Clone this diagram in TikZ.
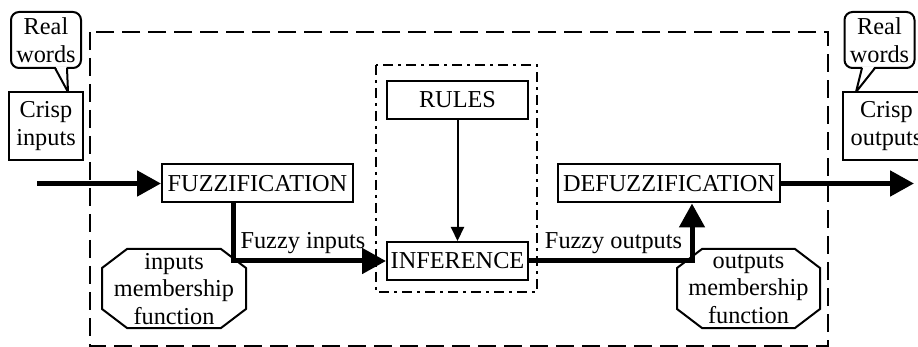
\documentclass[tikz,border=0pt]{standalone}
\usepackage{fontspec}
\setmainfont{Liberation Serif}
\usetikzlibrary{arrows.meta}
\begin{document}
\begin{tikzpicture}[x=1pt,y=-1pt,
  txt/.style={font=\fontsize{24.3}{27.5}\selectfont, inner sep=0pt, align=center},
  boxn/.style={txt, draw, line width=2pt, minimum width=#1, minimum height=38pt},
  twoline/.style={txt, draw, line width=2pt, minimum width=#1, minimum height=68pt},
  callout/.style={txt, draw, line width=2pt, rounded corners=8pt, minimum width=70pt, minimum height=56pt},
  octa/.style={line width=2pt},
  thickarrow/.style={line width=5pt, -{Triangle[length=24pt,width=25pt]}},
  thinarrow/.style={line width=2pt, -{Triangle[length=14pt,width=13pt]}},
  outerframe/.style={line width=2.5pt, dash pattern=on 18pt off 8pt},
  innerframe/.style={line width=2.5pt, dash pattern=on 10pt off 5pt on 3pt off 5pt},
  lbl/.style={txt, anchor=base}
]
\useasboundingbox (0,0) rectangle (918,347);
\clip (0,0) rectangle (918,347);

% frames
\draw[outerframe] (90,32) rectangle (828,346);
\draw[innerframe] (376,65) rectangle (537,292);

% left callout and crisp inputs
\node[callout] (rw1) at (46,40) {Real\\words};
\node[twoline=74pt] (ci) at (46,126) {Crisp\\inputs};
\fill[white] (55.5,66.5) -- (66.5,66.5) -- (67.5,90) -- cycle;
\draw[line width=2pt, line join=round] (55,68) -- (68,92) -- (67,68);

% right callout and crisp outputs
\node[callout] (rw2) at (879.5,40) {Real\\words};
\node[twoline=87pt] (co) at (886.5,126) {Crisp\\outputs};
\fill[white] (862.5,66.5) -- (874.5,66.5) -- (857,90) -- cycle;
\draw[line width=2pt, line join=round] (862,68) -- (856,92) -- (875,68);

% main boxes
\node[boxn=191pt] (fuzz) at (257.5,183.5) {FUZZIFICATION};
\node[boxn=141pt] (rules) at (457.5,100) {RULES};
\node[boxn=141pt] (inf) at (457.5,261) {INFERENCE};
\node[boxn=222pt] (defuzz) at (669,183.5) {DEFUZZIFICATION};

% membership function octagons
\node[txt] (imf) at (174,289) {inputs\\membership\\function};
\draw[octa] (174,288.5) ++(-47,-39.5) -- ++(94,0) -- ++(25,19) -- ++(0,41) -- ++(-25,19) -- ++(-94,0) -- ++(-25,-19) -- ++(0,-41) -- cycle;
\node[txt] (omf) at (748.5,289) {outputs\\membership\\function};
\draw[octa] (748.5,288.5) ++(-46.5,-39.5) -- ++(93,0) -- ++(25,19) -- ++(0,41) -- ++(-25,19) -- ++(-93,0) -- ++(-25,-19) -- ++(0,-41) -- cycle;

% connectors
\coordinate (inStart) at (37,183.5);
\coordinate (outEnd) at (914,183.5);
\coordinate (c1) at (233,261);
\coordinate (c2) at (692,261);
\draw[thickarrow] (inStart) -- (fuzz.west);
\draw[thickarrow] (fuzz.south -| c1) -- (c1) -- (inf.west);
\draw[thickarrow] (inf.east) -- (c2) -- (defuzz.south -| c2);
\draw[thickarrow] (defuzz.east) -- (outEnd);
\draw[thinarrow] (rules.south) -- (inf.north);

% labels
\node[lbl] (fi) at (303,248.5) {Fuzzy inputs};
\node[lbl] (fo) at (613.5,248.5) {Fuzzy outputs};
\end{tikzpicture}
\end{document}
